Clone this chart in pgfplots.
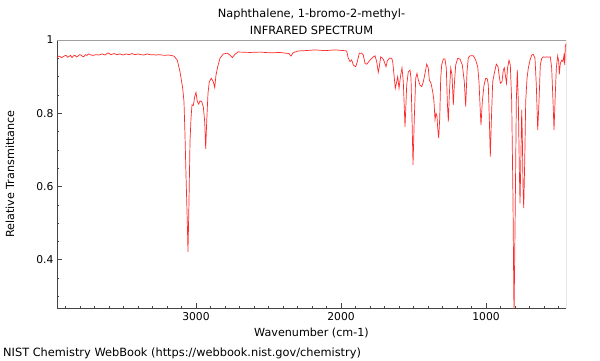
\documentclass[border=0pt]{standalone}
\usepackage{pgfplots}
\pgfplotsset{compat=1.18}
\usepackage{fontspec}
\setmainfont{DejaVu Sans}
\definecolor{spine}{HTML}{444444}
\definecolor{topspine}{HTML}{A0A0A0}
\definecolor{specred}{HTML}{FF2A2A}
\begin{document}
\begin{tikzpicture}[x=1bp,y=1bp]
\useasboundingbox (0,0) rectangle (600,360);
\begin{axis}[
  at={(57bp,52bp)}, anchor=south west,
  scale only axis, width=509bp, height=268bp,
  x dir=reverse,
  xmin=448.3, xmax=3958.6, ymin=0.2685, ymax=1,
  axis x line*=bottom, axis y line*=left,
  axis line style={-, draw=spine, line width=0.8bp},
  xtick={1000,2000,3000}, xticklabels={1000,2000,3000},
  minor xtick={500,600,...,3900},
  ytick={0.4,0.6,0.8,1}, yticklabels={0.4,0.6,0.8,1},
  minor ytick={0.3,0.35,...,0.951},
  tick align=inside,
  major tick length=5bp, minor tick length=2.5bp,
  tick style={draw=spine, line width=0.7bp},
  /pgf/number format/assume math mode=true,
  ticklabel style={font=\fontsize{10.8}{12}\selectfont},
  xticklabel style={yshift=-1bp},
  yticklabel style={xshift=0bp},
  clip=true,
]
\addplot[specred, line width=0.7bp] coordinates {
(3958.6,0.951)(3948.0,0.956)(3937.9,0.955)(3927.0,0.952)(3917.2,0.954)(3906.0,0.957)(3896.6,0.958)(3885.0,0.953)(3875.9,0.955)(3865.0,0.958)(3855.2,0.952)
(3844.0,0.957)(3834.5,0.958)(3824.0,0.954)(3813.8,0.956)(3803.0,0.960)(3793.1,0.959)(3782.0,0.955)(3772.4,0.955)(3762.0,0.960)(3751.7,0.958)(3741.0,0.962)(3731.0,0.960)
(3710.3,0.958)(3689.7,0.960)(3669.0,0.959)(3648.3,0.962)(3627.6,0.959)(3606.9,0.965)
(3586.2,0.960)(3565.5,0.963)(3544.8,0.960)(3524.1,0.962)(3503.4,0.959)(3482.8,0.962)
(3462.1,0.960)(3441.4,0.963)(3420.7,0.960)(3400.0,0.962)(3379.3,0.960)(3358.6,0.959)
(3337.9,0.962)(3317.2,0.960)(3296.6,0.960)(3275.9,0.959)(3255.2,0.960)(3234.5,0.959)
(3213.8,0.958)(3193.1,0.959)(3172.4,0.958)(3151.7,0.956)
(3129.0,0.945)(3110.3,0.9135)(3091.7,0.868)(3082.8,0.832)(3075.9,0.741)(3069.0,0.632)
(3060.0,0.504)(3055.2,0.4215)(3048.3,0.559)(3041.4,0.7225)(3034.5,0.786)(3027.6,0.823)
(3018.6,0.821)(3009.0,0.845)(3000.0,0.857)(2991.0,0.832)(2981.4,0.825)(2972.4,0.834)
(2960.7,0.832)(2949.7,0.818)(2940.0,0.777)(2933.1,0.703)(2926.2,0.777)(2917.2,0.855)
(2908.3,0.886)(2894.5,0.8955)(2880.7,0.886)(2871.0,0.870)(2862.1,0.9045)(2850.3,0.927)
(2834.5,0.950)(2811.7,0.962)(2784.1,0.964)(2765.5,0.959)(2749.7,0.952)(2731.0,0.961)
(2708.3,0.968)(2696.6,0.967)(2627.6,0.966)(2558.6,0.967)(2489.7,0.965)(2420.7,0.966)
(2358.6,0.963)(2344.8,0.956)(2331.0,0.965)(2296.6,0.970)(2248.3,0.971)(2179.3,0.973)
(2110.3,0.971)(2041.4,0.973)(1979.3,0.971)(1960.7,0.970)
(1949.7,0.950)(1937.9,0.941)(1926.2,0.9455)(1915.2,0.932)(1898.6,0.927)(1887.6,0.941)
(1873.8,0.964)(1857.2,0.964)(1846.2,0.959)(1834.5,0.936)(1822.8,0.934)(1811.7,0.939)
(1800.0,0.945)(1788.3,0.950)(1777.2,0.954)(1765.5,0.957)(1753.8,0.941)(1742.8,0.912)
(1735.9,0.927)(1726.2,0.954)(1712.4,0.950)(1701.4,0.941)(1689.7,0.927)(1680.7,0.943)
(1666.9,0.950)(1650.3,0.950)(1643.4,0.941)(1634.5,0.9045)(1625.5,0.868)(1615.9,0.886)
(1609.0,0.900)(1600.0,0.868)(1588.3,0.9045)(1579.3,0.924)(1570.3,0.886)(1563.4,0.8136)
(1558.6,0.763)(1546.9,0.877)(1535.9,0.9135)(1524.1,0.918)(1517.2,0.8955)(1510.3,0.786)
(1503.4,0.659)(1494.5,0.786)(1484.8,0.8955)(1475.9,0.909)(1466.9,0.891)(1455.2,0.877)
(1443.4,0.873)(1432.4,0.886)(1420.7,0.909)(1409.0,0.934)(1397.9,0.923)(1391.0,0.891)
(1379.3,0.882)(1367.6,0.859)(1358.6,0.832)(1351.7,0.782)(1344.8,0.800)(1337.9,0.791)
(1333.1,0.759)(1326.2,0.732)(1319.3,0.786)(1312.4,0.8955)(1305.5,0.932)(1294.5,0.948)
(1282.8,0.948)(1273.8,0.923)(1266.9,0.832)(1260.0,0.777)(1253.1,0.850)(1243.4,0.923)
(1234.5,0.9045)(1225.5,0.823)(1218.6,0.877)(1209.0,0.932)(1195.2,0.950)(1179.3,0.948)
(1163.4,0.932)(1149.7,0.886)(1140.0,0.818)(1131.0,0.9135)(1122.1,0.951)(1110.3,0.957)
(1087.6,0.957)(1071.0,0.945)(1057.2,0.927)(1048.3,0.886)(1039.3,0.804)(1034.5,0.768)
(1025.5,0.832)(1013.8,0.877)(1002.1,0.8955)(991.0,0.894)(984.1,0.877)(977.2,0.786)
(970.3,0.682)(963.4,0.777)(953.8,0.886)(942.8,0.909)(929.0,0.934)(917.2,0.927)
(908.3,0.900)(901.4,0.882)(889.7,0.886)(880.7,0.918)(873.8,0.924)(866.9,0.9045)
(858.6,0.882)(851.7,0.923)(841.4,0.945)(832.4,0.932)(822.8,0.832)(813.8,0.559)
(806.9,0.24)(797.9,0.559)(791.0,0.832)(784.1,0.918)(777.2,0.832)(770.3,0.650)
(765.5,0.554)(760.7,0.650)(753.8,0.809)(749.7,0.741)(744.8,0.604)(740.0,0.541)
(733.1,0.668)(726.2,0.832)(717.2,0.8955)(708.3,0.923)(696.6,0.945)(684.8,0.959)
(673.8,0.961)(662.1,0.950)(653.1,0.877)(643.4,0.754)(634.5,0.832)(625.5,0.932)
(615.9,0.950)(604.8,0.954)(593.1,0.953)(581.4,0.954)(570.3,0.953)(556.6,0.954)
(547.0,0.923)(537.9,0.832)(531.0,0.754)(524.1,0.832)(515.2,0.923)(505.5,0.957)
(498.6,0.941)(494.5,0.906)(487.6,0.936)(477.9,0.945)(469.0,0.941)(462.1,0.959)
(457.2,0.932)(453.1,0.980)(449.0,0.990)
};
\draw[topspine, line width=1.5bp] (rel axis cs:0,1) -- (rel axis cs:1,1);
\draw[spine, line width=0.8bp] (rel axis cs:1,0) -- (rel axis cs:1,1);
\end{axis}
\node[anchor=base, font=\fontsize{11.4}{13}\selectfont] at (311.5,342.5) {Naphthalene, 1-bromo-2-methyl-};
\node[anchor=base, font=\fontsize{11.4}{13}\selectfont] at (311.5,325.5) {INFRARED SPECTRUM};
\node[anchor=base, font=\fontsize{11.2}{13}\selectfont] at (311.5,24) {Wavenumber (cm-1)};
\node[anchor=base west, inner sep=0pt, font=\fontsize{11.4}{13}\selectfont] at (3,4) {NIST Chemistry WebBook (https://webbook.nist.gov/chemistry)};
\node[rotate=90, font=\fontsize{11.2}{13}\selectfont] at (10,174+12) {Relative Transmittance};
\end{tikzpicture}
\end{document}
